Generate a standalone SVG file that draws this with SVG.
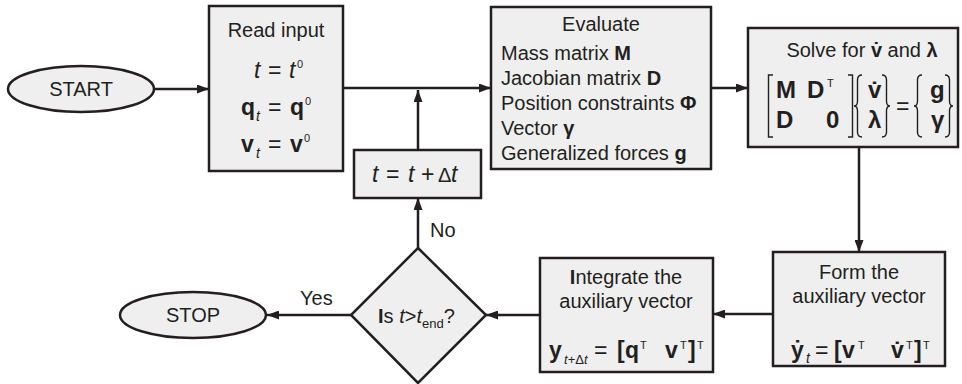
<svg xmlns="http://www.w3.org/2000/svg" width="962" height="384" viewBox="0 0 962 384">
<defs>
<style>
.box{fill:#efefef;stroke:#231f20;stroke-width:2.5}
.ln{fill:none;stroke:#231f20;stroke-width:2.5}
.br{fill:none;stroke:#231f20;stroke-width:1.4}
text{font-family:"Liberation Sans",Arial,sans-serif;font-size:20px;fill:#231f20}
.c{text-anchor:middle}
.b{font-weight:bold}
.i{font-style:italic}
.s{font-size:13px}
.sp{font-size:11px}
.e{font-size:23px}
.m{font-size:24px;font-weight:bold}
.ss{font-size:14px;font-style:italic}
</style>
<marker id="ah" markerUnits="userSpaceOnUse" markerWidth="13" markerHeight="9" refX="12" refY="4.5" orient="auto">
<path d="M0,0 L12,4.5 L0,9 z" fill="#231f20"/>
</marker>
</defs>
<rect width="962" height="384" fill="#ffffff"/>

<g id="connectors">
<line class="ln" x1="155" y1="89" x2="209" y2="89" marker-end="url(#ah)"/>
<line class="ln" x1="343" y1="88" x2="491" y2="88" marker-end="url(#ah)"/>
<line class="ln" x1="418" y1="150" x2="418" y2="90" marker-end="url(#ah)"/>
<line class="ln" x1="711" y1="88" x2="748" y2="88" marker-end="url(#ah)"/>
<line class="ln" x1="859" y1="147" x2="859" y2="252" marker-end="url(#ah)"/>
<line class="ln" x1="773" y1="314" x2="713" y2="314" marker-end="url(#ah)"/>
<line class="ln" x1="540" y1="315" x2="486" y2="315" marker-end="url(#ah)"/>
<line class="ln" x1="418" y1="248" x2="418" y2="198" marker-end="url(#ah)"/>
<line class="ln" x1="351" y1="315" x2="267" y2="315" marker-end="url(#ah)"/>
<text x="300" y="305">Yes</text>
<text x="430" y="237">No</text>
</g>

<g id="start">
<ellipse class="box" cx="81" cy="89" rx="73" ry="23"/>
<text class="c" x="81" y="96">START</text>
</g>

<g id="read-input">
<rect class="box" x="209" y="6" width="134" height="165"/>
<text class="c" x="276" y="37">Read input</text>
<text class="e i" x="254" y="78">t</text>
<text class="e" x="268" y="78">=</text>
<text class="e i" x="289" y="78">t</text>
<text class="sp" x="297" y="68">0</text>
<text class="e b" x="241" y="115">q</text>
<text class="ss" x="256" y="121">t</text>
<text class="e" x="268" y="115">=</text>
<text class="e b" x="290" y="115">q</text>
<text class="sp" x="305" y="105">0</text>
<text class="e b" x="241" y="152">v</text>
<text class="ss" x="256" y="158">t</text>
<text class="e" x="268" y="152">=</text>
<text class="e b" x="290" y="152">v</text>
<text class="sp" x="304" y="142">0</text>
</g>

<g id="update-time">
<rect class="box" x="354" y="150" width="127" height="48"/>
<text class="e i" x="372" y="182">t</text>
<text class="e" x="386" y="182">=</text>
<text class="e i" x="408" y="182">t</text>
<text class="e" x="421" y="182">+</text>
<text x="438" y="182">Δ</text>
<text class="e i" x="451" y="182">t</text>
</g>

<g id="evaluate">
<rect class="box" x="491" y="7" width="220" height="162"/>
<text class="c" x="601" y="31">Evaluate</text>
<text x="501" y="60">Mass matrix <tspan class="b">M</tspan></text>
<text x="501" y="85">Jacobian matrix <tspan class="b">D</tspan></text>
<text x="501" y="110">Position constraints <tspan class="b">Φ</tspan></text>
<text x="501" y="135">Vector <tspan class="b">γ</tspan></text>
<text x="501" y="160">Generalized forces <tspan class="b">g</tspan></text>
</g>

<g id="solve">
<rect class="box" x="748" y="28" width="210" height="119"/>
<text class="c" x="862" y="57">Solve for <tspan class="b">v̇</tspan> and <tspan class="b">λ</tspan></text>
<path class="br" d="M773,75 H768.5 V137 H773"/>
<text class="m" x="776" y="98">M</text>
<text class="m" x="807" y="98">D</text>
<text class="sp" x="827" y="87">T</text>
<text class="m" x="776" y="128">D</text>
<text class="m" x="826" y="128">0</text>
<path class="br" d="M848,75 H852.5 V137 H848"/>
<path class="br" d="M862,75 Q857.5,75 857.5,80 V101 Q857.5,106 854,106 Q857.5,106 857.5,111 V132 Q857.5,137 862,137"/>
<text class="m" x="868" y="98">v̇</text>
<text class="m" x="868" y="128">λ</text>
<path class="br" d="M882,75 Q886.5,75 886.5,80 V101 Q886.5,106 890,106 Q886.5,106 886.5,111 V132 Q886.5,137 882,137"/>
<text class="e" x="896" y="114">=</text>
<path class="br" d="M922,75 Q917.5,75 917.5,80 V101 Q917.5,106 914,106 Q917.5,106 917.5,111 V132 Q917.5,137 922,137"/>
<text class="m" x="930" y="98">g</text>
<text class="m" x="931" y="128">γ</text>
<path class="br" d="M945,75 Q949.5,75 949.5,80 V101 Q949.5,106 953,106 Q949.5,106 949.5,111 V132 Q949.5,137 945,137"/>
</g>

<g id="form">
<rect class="box" x="773" y="252" width="172" height="114"/>
<text class="c" x="859" y="279">Form the</text>
<text class="c" x="859" y="303">auxiliary vector</text>
<text class="e b" x="791" y="358">ẏ</text>
<text class="ss" x="806" y="363">t</text>
<text class="e" x="815" y="358">=</text>
<text class="e b" x="834" y="358">[</text>
<text class="e b" x="842" y="358">v</text>
<text class="sp" x="858" y="349">T</text>
<text class="e b" x="891" y="358">v̇</text>
<text class="sp" x="906" y="349">T</text>
<text class="e b" x="914" y="358">]</text>
<text class="sp" x="923" y="349">T</text>
</g>

<g id="integrate">
<rect class="box" x="540" y="258" width="173" height="114"/>
<text class="c" x="626" y="284"><tspan class="b">I</tspan>ntegrate the</text>
<text class="c" x="626" y="308">auxiliary vector</text>
<text class="e b" x="549" y="358">y</text>
<text class="s" x="564" y="364"><tspan class="i">t</tspan>+Δ<tspan class="i">t</tspan></text>
<text class="e" x="594" y="358">=</text>
<text class="e b" x="617" y="358">[</text>
<text class="e b" x="625" y="358">q</text>
<text class="sp" x="640" y="349">T</text>
<text class="e b" x="665" y="358">v</text>
<text class="sp" x="680" y="349">T</text>
<text class="e b" x="688" y="358">]</text>
<text class="sp" x="697" y="349">T</text>
</g>

<g id="decision">
<path class="box" d="M418,248 L486,315 L418,383 L351,315 Z"/>
<text x="378" y="323"><tspan class="b">I</tspan>s <tspan class="i">t</tspan>&gt;<tspan class="i">t</tspan><tspan class="s" dy="5">end</tspan><tspan dy="-5">?</tspan></text>
</g>

<g id="stop">
<ellipse class="box" cx="193" cy="315" rx="73" ry="23"/>
<text class="c" x="193" y="322">STOP</text>
</g>
</svg>
